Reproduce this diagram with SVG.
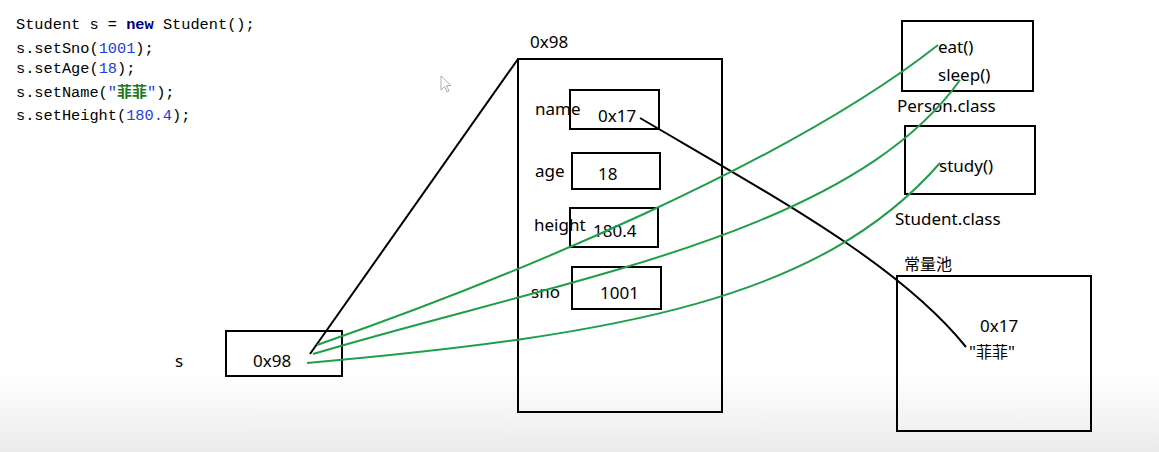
<svg xmlns="http://www.w3.org/2000/svg" width="1159" height="452" viewBox="0 0 1159 452">
<defs>
<linearGradient id="bg" x1="0" y1="0" x2="0" y2="1">
<stop offset="0" stop-color="#ffffff"/>
<stop offset="1" stop-color="#ebebeb"/>
</linearGradient>
<style>
.box{fill:none;stroke:#000;stroke-width:2}
.t{font-family:"Noto Sans","Liberation Sans","Noto Sans CJK SC",sans-serif;font-size:17px;fill:#000}
.cjk{font-family:"Noto Sans CJK SC","Noto Sans",sans-serif;font-size:16px;fill:#000}
.code{font-family:"Liberation Mono","DejaVu Sans Mono",monospace;font-size:15.3px;fill:#000}
.kw{font-weight:bold;fill:#00007f}
.num{fill:#1a3ee0}
.str{fill:#1a3ee0}
.zh{fill:#1a7a1a;font-weight:bold;font-family:"Noto Sans CJK SC",sans-serif;font-size:15px}
.blk{fill:none;stroke:#000;stroke-width:2}
.grn{fill:none;stroke:#1f9e4a;stroke-width:2}
</style>
</defs>
<rect x="0" y="0" width="1159" height="452" fill="#ffffff"/>
<rect x="0" y="375" width="1159" height="77" fill="url(#bg)"/>

<g id="code">
<text class="code" x="16" y="29">Student s = <tspan class="kw">new</tspan> Student();</text>
<text class="code" x="16" y="53">s.setSno(<tspan class="num">1001</tspan>);</text>
<text class="code" x="16" y="73">s.setAge(<tspan class="num">18</tspan>);</text>
<text class="code" x="16" y="97">s.setName(<tspan class="str">"</tspan><tspan class="zh">菲菲</tspan><tspan class="str">"</tspan>);</text>
<text class="code" x="16" y="120">s.setHeight(<tspan class="num">180.4</tspan>);</text>
</g>

<g id="cursor">
<path d="M441,76 L441,90 L444.5,86.5 L447,92 L449,91 L446.5,85.5 L451,85.5 Z" fill="#ffffff" stroke="#9a9a9a" stroke-width="0.8"/>
</g>

<g id="node-s">
<text class="t" x="175" y="367">s</text>
<rect class="box" x="226" y="331" width="116" height="45"/>
<text class="t" x="253" y="367">0x98</text>
</g>

<g id="node-object">
<text class="t" x="530" y="48">0x98</text>
<rect class="box" x="518" y="59" width="204" height="353"/>
<rect class="box" x="570" y="90" width="89" height="39"/>
<text class="t" x="535" y="115">name</text>
<text class="t" x="598" y="122">0x17</text>
<rect class="box" x="572" y="153" width="88" height="36"/>
<text class="t" x="535" y="177">age</text>
<text class="t" x="598" y="180">18</text>
<rect class="box" x="570" y="208" width="88" height="39"/>
<text class="t" x="534" y="231">height</text>
<text class="t" x="593" y="237">180.4</text>
<rect class="box" x="572" y="267" width="89" height="42"/>
<text class="t" x="531" y="298">sno</text>
<text class="t" x="600" y="299">1001</text>
</g>

<g id="node-person-class">
<rect class="box" x="902" y="21" width="131" height="70"/>
<text class="t" x="938" y="53">eat()</text>
<text class="t" x="938" y="81">sleep()</text>
<text class="t" x="897" y="112">Person.class</text>
</g>

<g id="node-student-class">
<rect class="box" x="905" y="126" width="130" height="68"/>
<text class="t" x="939" y="172">study()</text>
<text class="t" x="895" y="225">Student.class</text>
</g>

<g id="node-constant-pool">
<text class="cjk" x="904" y="270">常量池</text>
<rect class="box" x="897" y="276" width="194" height="155"/>
<text class="t" x="980" y="332">0x17</text>
<text class="t" x="969" y="358">"<tspan font-family="Noto Sans CJK SC, sans-serif" font-size="16">菲菲</tspan>"</text>
</g>

<g id="connectors">
<line class="blk" x1="310" y1="354" x2="518" y2="59"/>
<path class="blk" d="M640,118 C780,200 900,265 966,347"/>
<path class="grn" d="M317,345 C510,278 790,162 938,45"/>
<path class="grn" d="M313,354 C560,280 850,235 960,80"/>
<path class="grn" d="M307,363 C620,335 820,300 940,163"/>
</g>
</svg>
